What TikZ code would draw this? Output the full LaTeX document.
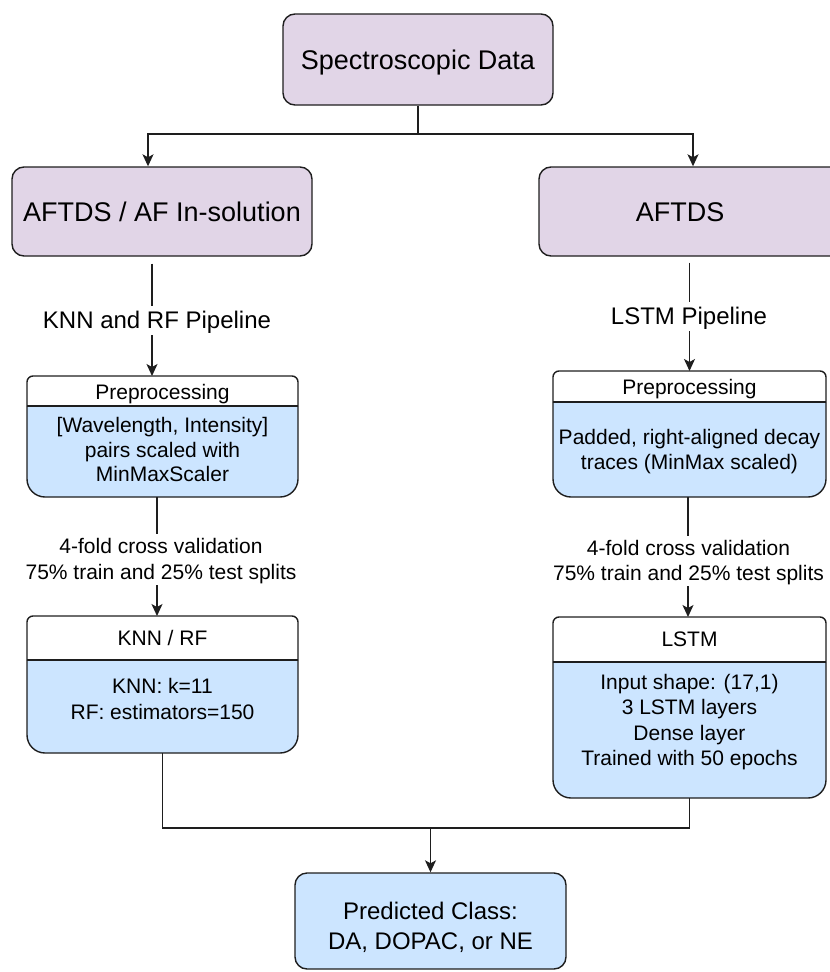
\documentclass[tikz,border=0pt]{standalone}
\usepackage{fontspec}
\setmainfont{Liberation Sans}
\usetikzlibrary{calc,arrows.meta}
\definecolor{purp}{RGB}{225,213,231}
\definecolor{lblue}{RGB}{204,229,255}
\definecolor{lc}{RGB}{30,30,30}
\tikzset{
  bigtxt/.style={font=\fontsize{27}{30}\selectfont, text height=19pt, text depth=0pt, inner sep=0pt},
  midtxt/.style={font=\fontsize{24}{30}\selectfont, align=center, text height=17pt, text depth=0pt, inner sep=0pt},
  smtxt/.style={font=\fontsize{21}{25}\selectfont, align=center, text height=15pt, text depth=0pt, inner sep=0pt},
  topbox/.style={draw=lc, line width=1.4pt, fill=purp, rounded corners=12pt, inner sep=0pt, bigtxt},
  predbox/.style={draw=lc, line width=1.4pt, fill=lblue, rounded corners=12pt, inner sep=0pt},
  lanenode/.style={rectangle, inner sep=0pt, outer sep=0pt},
  conn/.style={draw=lc, line width=1.4pt},
  arr/.style={conn, -{Stealth[length=12pt,width=11pt,inset=3pt]}},
  edgelbl/.style={fill=white, inner xsep=2pt, inner ysep=5pt},
}
\newcommand\drawlane[2]{%
  \fill[lblue, rounded corners=18pt] ($(#1.north east)+(0,#2)$) -- (#1.south east) -- (#1.south west) -- ($(#1.north west)+(0,#2)$);
  \fill[white, rounded corners=6pt] ($(#1.north west)+(0,#2)$) -- (#1.north west) -- (#1.north east) -- ($(#1.north east)+(0,#2)$);
  \draw[lc, line width=1.4pt, rounded corners=6pt] ($(#1.north west)+(0,#2)$) -- (#1.north west) -- (#1.north east) -- ($(#1.north east)+(0,#2)$);
  \draw[lc, line width=1.4pt, rounded corners=18pt] ($(#1.north east)+(0,#2)$) -- (#1.south east) -- (#1.south west) -- ($(#1.north west)+(0,#2)$);
  \draw[lc, line width=1.4pt] ($(#1.north west)+(0,#2)$) -- ($(#1.north east)+(0,#2)$);
}
\begin{document}
\begin{tikzpicture}[x=1pt,y=-1pt]
\useasboundingbox (0,0) rectangle (830,972);
\clip (0,0) rectangle (830,972);

% top boxes
\node[topbox, minimum width=270pt, minimum height=91pt] (sd) at (418,59.5) {Spectroscopic Data};
\node[topbox, minimum width=300pt, minimum height=89pt] (a1) at (162,211.5) {AFTDS / AF In-solution};
\node[topbox, minimum width=306pt, minimum height=89pt] (a2) at (692,211.5) {};
\node[bigtxt] (a2t) at (680,211.5) {AFTDS};

% branch
\coordinate (br) at (418,134);
\draw[conn] (sd.south) -- (br);
\draw[arr] (br) -| ($(a1.north)+(-14,0)$);
\draw[arr] (br) -| ($(a2.north)+(1,0)$);

% lanes
\node[lanenode, minimum width=271pt, minimum height=121pt] (pre1) at (162.5,436.5) {};
\drawlane{pre1}{30}
\node[lanenode, minimum width=273pt, minimum height=126pt] (pre2) at (689.5,434) {};
\drawlane{pre2}{31}
\node[lanenode, minimum width=271pt, minimum height=137pt] (knn) at (162.5,684.5) {};
\drawlane{knn}{44}
\node[lanenode, minimum width=273pt, minimum height=181pt] (lstm) at (689.5,707.5) {};
\drawlane{lstm}{45}

% lane texts
\node[smtxt] (pre1h) at ($(pre1.north)+(0,16)$) {Preprocessing};
\node[smtxt, font=\fontsize{21}{24.5}\selectfont, text height=64pt] (pre1b) at ($(pre1.north)+(0,73.5)$) {[Wavelength, Intensity]\\pairs scaled with\\MinMaxScaler};
\node[smtxt] (pre2h) at ($(pre2.north)+(0,16)$) {Preprocessing};
\node[smtxt, text height=40pt] (pre2b) at ($(pre2.north)+(0,78.5)$) {Padded, right-aligned decay\\traces (MinMax scaled)};
\node[smtxt] (knnh) at ($(knn.north)+(0,22)$) {KNN / RF};
\node[smtxt, font=\fontsize{21}{26}\selectfont, text height=41pt] (knnb) at ($(knn.north)+(0,83)$) {KNN: k=11\\RF: estimators=150};
\node[smtxt] (lstmh) at ($(lstm.north)+(0,22)$) {LSTM};
\node[smtxt, font=\fontsize{21}{25.3}\selectfont, text height=90.9pt] (lstmb) at ($(lstm.north)+(0,103)$) {Input shape: (17,1)\\3 LSTM layers\\Dense layer\\Trained with 50 epochs};

% pipelines
\draw[arr] ($(pre1.north |- a1.south)+(-10.5,7)$) -- ($(pre1.north)+(-10.5,0)$);
\node[midtxt, fill=white, inner xsep=2pt, inner ysep=6pt] (lbl1) at (157,320) {KNN and RF Pipeline};
\draw[arr] ($(pre2.north |- a2.south)+(0,6)$) -- (pre2.north);
\node[midtxt, fill=white, inner xsep=2pt, inner ysep=6pt] (lbl2) at (689,316) {LSTM Pipeline};

% cross validation
\draw[arr] ($(pre1.south)+(-5.5,0)$) -- ($(knn.north)+(-5.5,0)$);
\node[smtxt, edgelbl, font=\fontsize{21}{26}\selectfont, text height=41pt] (cv1) at (161,559) {4-fold cross validation\\75\% train and 25\% test splits};
\draw[arr] ($(pre2.south)+(-1.5,0)$) -- ($(lstm.north)+(-1.5,0)$);
\node[smtxt, edgelbl, text height=40pt] (cv2) at (688.5,560.5) {4-fold cross validation\\75\% train and 25\% test splits};

% merge
\node[predbox, minimum width=271pt, minimum height=96pt] (pred) at (430.5,921) {};
\node[midtxt, text height=47pt] (predt) at ($(pred.center)+(0,5)$) {Predicted Class:\\DA, DOPAC, or NE};
\coordinate (mg) at (430.5,828);
\draw[conn] (knn.south) |- (mg);
\draw[conn] (lstm.south) |- (mg);
\draw[arr] (mg) -- (pred.north);
\end{tikzpicture}
\end{document}
